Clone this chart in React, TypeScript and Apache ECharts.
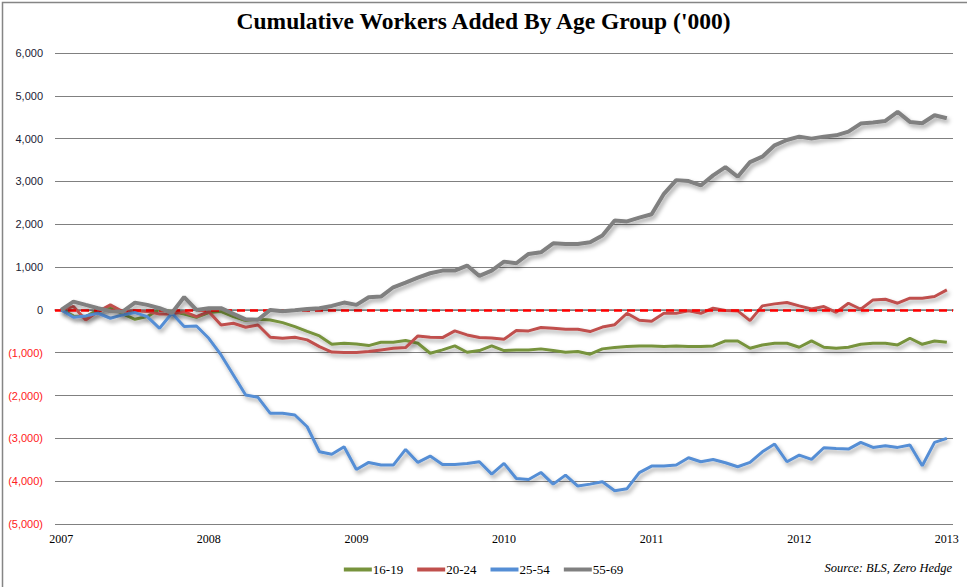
import React, { useEffect, useRef } from 'react';
import * as echarts from 'echarts';

const yearLabels = ['2007', '2008', '2009', '2010', '2011', '2012', '2013'];
const categories: string[] = [];
yearLabels.forEach((y, yi) => {
  const n = yi === yearLabels.length - 1 ? 1 : 12;
  for (let m = 1; m <= n; m++) categories.push(`${y}-${String(m).padStart(2, '0')}`);
});

const seriesNames = ['16-19', '20-24', '25-54', '55-69'];

const age16_19 = [
  0, -140, -156, 0, 62, -94, -219, -156, 15, -40, -94, -172,
  -62, -40, -156, -250, -219, -234, -297, -390, -500, -607, -800, -778,
  -794, -833, -755, -755, -716, -778, -1012, -934, -840, -988, -949, -840,
  -949, -934, -934, -910, -949, -988, -973, -1035, -910, -879, -857, -842,
  -842, -857, -842, -857, -857, -842, -725, -725, -896, -818, -779, -779,
  -873, -725, -873, -896, -873, -803, -779, -779, -818, -662, -803, -725,
  -756,
];
const age20_24 = [
  0, 78, -234, -40, 117, -40, -20, -40, -94, -94, -40, -156,
  -40, -352, -312, -406, -352, -640, -664, -640, -700, -858, -985, -996,
  -996, -973, -934, -895, -879, -607, -638, -646, -490, -584, -646, -654,
  -685, -482, -490, -412, -428, -451, -451, -506, -400, -345, -78, -240,
  -265, -78, -78, -23, -78, 39, -16, -23, -250, 94, 141, 172,
  94, 23, 78, -55, 156, 16, 234, 250, 156, 273, 273, 312,
  469,
];
const age25_54 = [
  0, -172, -140, -78, -195, -117, -62, -156, -430, -78, -390, -375,
  -663, -1052, -1520, -1988, -2042, -2416, -2416, -2455, -2728, -3312, -3370, -3196,
  -3726, -3562, -3624, -3624, -3258, -3562, -3414, -3609, -3609, -3585, -3546, -3835,
  -3585, -3936, -3960, -3796, -4069, -3858, -4115, -4069, -4014, -4225, -4175, -3800,
  -3648, -3648, -3624, -3453, -3546, -3492, -3570, -3663, -3562, -3313, -3133, -3546,
  -3391, -3492, -3219, -3235, -3250, -3094, -3211, -3172, -3211, -3157, -3640, -3094,
  -3000,
];
const age55_69 = [
  0, 195, 117, 40, -30, -40, 170, 117, 40, -70, 300, 0,
  40, 40, -90, -220, -230, 0, -30, -10, 20, 40, 93, 171,
  117, 296, 311, 529, 638, 755, 856, 918, 918, 1035, 794, 918,
  1128, 1089, 1307, 1346, 1556, 1541, 1541, 1580, 1740, 2090, 2066, 2155,
  2234, 2711, 3031, 3008, 2906, 3141, 3336, 3109, 3453, 3578, 3844, 3969,
  4047, 4000, 4047, 4078, 4164, 4352, 4375, 4414, 4625, 4391, 4359, 4547,
  4477,
];

const colors = ['#77933C', '#C0504D', '#558ED5', '#808080'];
const seriesData = [age16_19, age20_24, age25_54, age55_69];

function fmt(v: number): string {
  const s = Math.abs(v).toString().replace(/\B(?=(\d{3})+(?!\d))/g, ',');
  return v < 0 ? `(${s})` : s;
}

export default function App() {
  const ref = useRef<HTMLDivElement>(null);
  useEffect(() => {
    if (!ref.current) return;
    const chart = echarts.init(ref.current, undefined, { renderer: 'svg' });
    const option: any = {
      animation: false,
      backgroundColor: '#ffffff',
      title: {
        text: "Cumulative Workers Added By Age Group ('000)",
        left: 'center',
        top: 4,
        textStyle: {
          fontFamily: '"Liberation Serif", serif',
          fontWeight: 'bold',
          fontSize: 23.5,
          color: '#000',
        },
      },
      legend: {
        left: 'center',
        top: 558,
        itemGap: 14,
        itemWidth: 28,
        itemHeight: 4,
        icon: 'rect',
        textStyle: {
          fontFamily: '"Liberation Serif", serif',
          fontSize: 13,
          color: '#000',
          padding: [0, 0, 0, -4],
        },
        data: seriesNames,
      },
      grid: { left: 55, right: 14, top: 53, bottom: 63, containLabel: false },
      xAxis: {
        type: 'category',
        data: categories,
        boundaryGap: true,
        axisLine: { show: true, lineStyle: { color: '#808080', width: 1.5 } },
        axisTick: { show: false },
        splitLine: { show: false },
        axisLabel: {
          interval: (index: number) => index % 12 === 0,
          formatter: (v: string) => v.slice(0, 4),
          fontFamily: '"Liberation Serif", serif',
          fontSize: 12,
          color: '#000',
          margin: 9,
        },
      },
      yAxis: {
        type: 'value',
        min: -5000,
        max: 6000,
        interval: 1000,
        axisLine: { show: false },
        axisTick: { show: false },
        splitLine: { show: true, lineStyle: { color: '#808080', width: 1.2 } },
        axisLabel: {
          formatter: (v: number) => fmt(v),
          color: (v: any) => (Number(v) < 0 ? '#ff2020' : '#1a1a33'),
          fontFamily: '"Liberation Sans", sans-serif',
          fontSize: 11,
          margin: 12,
        },
      },
      series: seriesNames.map((name, i) => ({
        name,
        type: 'line',
        data: seriesData[i],
        symbol: 'none',
        z: 3 + i,
        color: colors[i],
        lineStyle: {
          color: colors[i],
          width: i === 3 ? 4 : 3,
          shadowColor: 'rgba(0,0,0,0.35)',
          shadowBlur: 4,
          shadowOffsetX: 2,
          shadowOffsetY: 3,
        },
        markLine:
          i === 0
            ? {
                silent: true,
                symbol: ['none', 'none'],
                label: { show: false },
                lineStyle: { color: '#ff0000', type: [8, 5], width: 2.5 },
                data: [{ yAxis: 0 }],
              }
            : undefined,
      })),
      graphic: [
        {
          type: 'rect',
          left: 0,
          top: 0,
          shape: { x: 0.5, y: 0.5, width: 966, height: 586 },
          style: { fill: 'none', stroke: '#858585', lineWidth: 1.5 },
          silent: true,
        },
        {
          type: 'text',
          right: 15,
          top: 561,
          style: {
            text: 'Source: BLS, Zero Hedge',
            font: 'italic 12.5px "Liberation Serif", serif',
            fill: '#000',
          },
        },
      ],
    };
    chart.setOption(option);
    return () => chart.dispose();
  }, []);
  return (
    <div
      ref={ref}
      style={{ position: 'fixed', left: 0, top: 0, width: 967, height: 587 }}
    />
  );
}
